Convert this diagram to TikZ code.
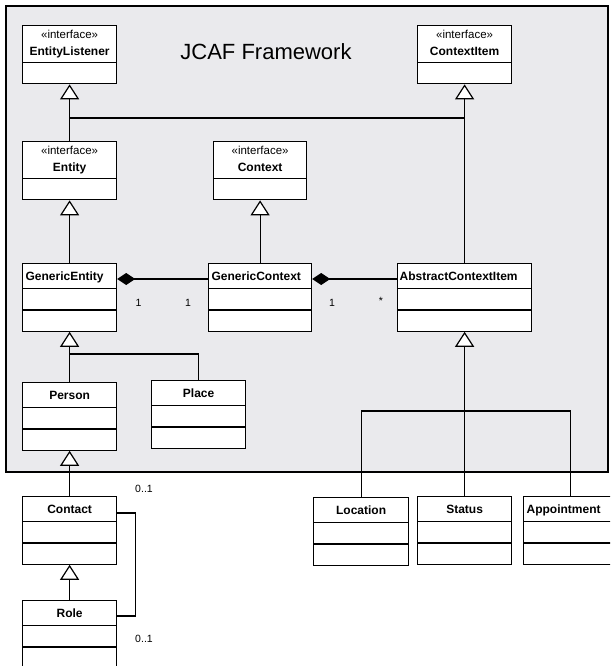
\documentclass[tikz,border=0pt]{standalone}
\usepackage{fontspec}
\setmainfont{Liberation Sans}
\usetikzlibrary{shapes.multipart, arrows.meta}
\definecolor{framegray}{RGB}{234,234,237}
\newcommand{\compart}{\rule{0pt}{20pt}}
\newcommand{\classname}[1]{\rule[-8pt]{0pt}{24pt}\textbf{#1}}
\newcommand{\ifacename}[1]{\rule[-6pt]{0pt}{30pt}\begin{tabular}[b]{@{}c@{}}{\fontsize{11.5}{17.5}\selectfont «interface»}\\\textbf{#1}\end{tabular}}
\tikzset{
        umlclass/.style={rectangle split, rectangle split parts=3, draw, fill=white, line width=1.2pt, inner xsep=3pt, inner ysep=0pt, minimum width=94pt, anchor=north west, font=\fontsize{12}{17.5}\selectfont},
        umliface/.style={umlclass, rectangle split parts=2},
        leftclass/.style={rectangle split part align=left},
        gen/.style={-{Triangle[length=15pt, width=19pt, fill=white]}, line width=1.2pt},
        compo/.style={-{Diamond[length=18pt, width=12pt]}, line width=1.2pt},
        assoc/.style={line width=1.2pt},
        mult/.style={font=\fontsize{10.5}{12}\selectfont, inner sep=0pt},
        framebox/.style={draw, fill=framegray, line width=1.2pt},
    }
\begin{document}
\begin{tikzpicture}[x=1pt, y=-1pt]
        \useasboundingbox (0,0) rectangle (610,666);
        \clip (0,0) rectangle (610,666);

        % FRAMEWORK
        \draw[framebox] (6,6) rectangle (608,472);
        \node[font=\fontsize{22}{26}\selectfont] (title) at (266,52) {JCAF Framework};

        % Interfaces
        \node[umliface] (listener) at (22,25) {\nodepart{one}\ifacename{EntityListener}\nodepart{two}\compart};
        \node[umliface] (ctxitem) at (417,25) {\nodepart{one}\ifacename{ContextItem}\nodepart{two}\compart};
        \node[umliface] (entity) at (22,141) {\nodepart{one}\ifacename{Entity}\nodepart{two}\compart};
        \node[umliface, minimum width=93pt] (context) at (213,141) {\nodepart{one}\ifacename{Context}\nodepart{two}\compart};

        % Classes
        \node[umlclass, leftclass] (genentity) at (22,263) {\nodepart{one}\classname{GenericEntity}\nodepart{two}\compart\nodepart{three}\compart};
        \node[umlclass, leftclass, minimum width=103pt] (gencontext) at (208,263) {\nodepart{one}\classname{GenericContext}\nodepart{two}\compart\nodepart{three}\compart};
        \node[umlclass, leftclass, minimum width=134pt, inner xsep=2pt] (absitem) at (397,263) {\nodepart{one}\classname{AbstractContextItem}\nodepart{two}\compart\nodepart{three}\compart};
        \node[umlclass] (person) at (22,382) {\nodepart{one}\classname{Person}\nodepart{two}\compart\nodepart{three}\compart};
        \node[umlclass] (place) at (151,380) {\nodepart{one}\classname{Place}\nodepart{two}\compart\nodepart{three}\compart};

        % Outside the framework
        \node[umlclass] (contact) at (22,496) {\nodepart{one}\classname{Contact}\nodepart{two}\compart\nodepart{three}\compart};
        \node[umlclass] (role) at (22,600) {\nodepart{one}\classname{Role}\nodepart{two}\compart\nodepart{three}\compart};
        \node[umlclass, minimum width=95pt] (location) at (313,497) {\nodepart{one}\classname{Location}\nodepart{two}\compart\nodepart{three}\compart};
        \node[umlclass] (status) at (417,496) {\nodepart{one}\classname{Status}\nodepart{two}\compart\nodepart{three}\compart};
        \node[umlclass, leftclass] (appointment) at (523,496) {\nodepart{one}\classname{Appointment}\nodepart{two}\compart\nodepart{three}\compart};

        % Generalizations
        \coordinate (bus) at (0,118);
        \coordinate (tree) at (0,354);
        \coordinate (fan) at (0,411);
        \draw[gen] (entity.north) -- (listener.south);
        \draw[gen] (absitem.north) -- (ctxitem.south);
        \draw[assoc] (entity.north |- bus) -- (ctxitem.south |- bus);
        \draw[gen] (genentity.north) -- (entity.south);
        \draw[gen] (gencontext.north) -- (context.south);
        \draw[gen] (person.north) -- (genentity.south);
        \draw[assoc] (place.north) |- (person.north |- tree);
        \draw[gen] (contact.north) -- (person.south);
        \draw[gen] (role.north) -- (contact.south);
        \draw[gen] (status.north) -- (absitem.south);
        \draw[assoc] (location.north) |- (appointment.north |- fan) -- (appointment.north);

        % Compositions
        \draw[compo] ([yshift=-16pt]gencontext.north west) -- ([yshift=-16pt]genentity.north east);
        \draw[compo] ([yshift=-16pt]absitem.north west) -- ([yshift=-16pt]gencontext.north east);
        \node[mult] (m1) at (138.5,303) {1};
        \node[mult] (m2) at (188,303) {1};
        \node[mult] (m3) at (332,303) {1};
        \node[mult] (m4) at (381,301) {*};

        % Contact - Role
        \draw[assoc] ([yshift=-17pt]contact.north east) -- ++(18,0) |- ([yshift=-16pt]role.north east);
        \node[mult] (m5) at (144,489) {0..1};
        \node[mult] (m6) at (144,639) {0..1};
    \end{tikzpicture}
\end{document}
